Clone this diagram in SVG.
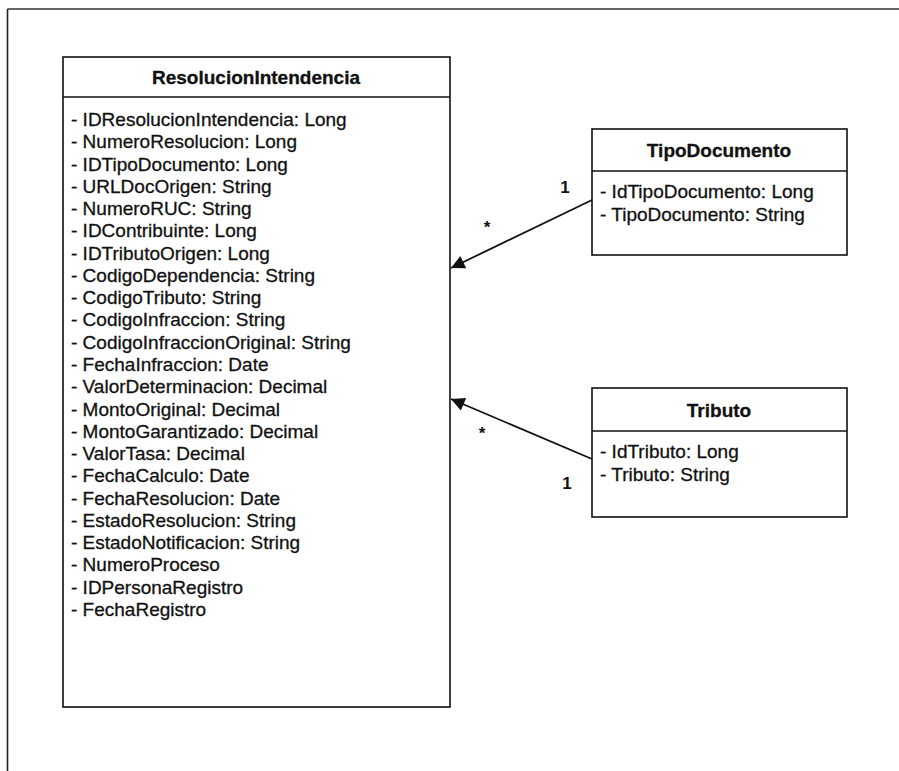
<svg xmlns="http://www.w3.org/2000/svg" width="899" height="771" viewBox="0 0 899 771">
<style>
.box{fill:#fff;stroke:#111;stroke-width:1.6}
.div{stroke:#111;stroke-width:1.4}
.t{font-family:"Liberation Sans",Arial,sans-serif;font-size:19px;fill:#111;stroke:#111;stroke-width:0.3}
.b{font-weight:bold;text-anchor:middle}
.lbl{font-family:"Liberation Sans",Arial,sans-serif;font-size:17px;font-weight:bold;fill:#111}
.edge{stroke:#111;stroke-width:1.8;fill:none}
</style>
<defs>
<marker id="ah" viewBox="0 0 10 10" refX="10" refY="5" markerWidth="8" markerHeight="8" markerUnits="userSpaceOnUse" orient="auto" style="overflow:visible">
<path d="M0,0 L10,5 L0,10 Z" fill="#111" transform="scale(1.7)" transform-origin="10 5"/>
</marker>
</defs>
<rect width="899" height="771" fill="#fff"/>
<g id="frame">
<line x1="7.5" y1="9" x2="899" y2="9" stroke="#333" stroke-width="1.5"/>
<line x1="7.5" y1="9" x2="7.5" y2="771" stroke="#222" stroke-width="1.6"/>
</g>
<g id="ResolucionIntendencia">
<rect class="box" x="63" y="57" width="387" height="650"/>
<line class="div" x1="63" y1="97" x2="450" y2="97"/>
<text class="t b" x="256" y="84">ResolucionIntendencia</text>
<text class="t" x="71" y="126">- IDResolucionIntendencia: Long</text>
<text class="t" x="71" y="148.3">- NumeroResolucion: Long</text>
<text class="t" x="71" y="170.5">- IDTipoDocumento: Long</text>
<text class="t" x="71" y="192.8">- URLDocOrigen: String</text>
<text class="t" x="71" y="215.1">- NumeroRUC: String</text>
<text class="t" x="71" y="237.4">- IDContribuinte: Long</text>
<text class="t" x="71" y="259.6">- IDTributoOrigen: Long</text>
<text class="t" x="71" y="281.9">- CodigoDependencia: String</text>
<text class="t" x="71" y="304.2">- CodigoTributo: String</text>
<text class="t" x="71" y="326.4">- CodigoInfraccion: String</text>
<text class="t" x="71" y="348.7">- CodigoInfraccionOriginal: String</text>
<text class="t" x="71" y="371">- FechaInfraccion: Date</text>
<text class="t" x="71" y="393.2">- ValorDeterminacion: Decimal</text>
<text class="t" x="71" y="415.5">- MontoOriginal: Decimal</text>
<text class="t" x="71" y="437.8">- MontoGarantizado: Decimal</text>
<text class="t" x="71" y="460">- ValorTasa: Decimal</text>
<text class="t" x="71" y="482.3">- FechaCalculo: Date</text>
<text class="t" x="71" y="504.6">- FechaResolucion: Date</text>
<text class="t" x="71" y="526.9">- EstadoResolucion: String</text>
<text class="t" x="71" y="549.1">- EstadoNotificacion: String</text>
<text class="t" x="71" y="571.4">- NumeroProceso</text>
<text class="t" x="71" y="593.7">- IDPersonaRegistro</text>
<text class="t" x="71" y="616">- FechaRegistro</text>
</g>
<g id="TipoDocumento">
<rect class="box" x="592" y="129" width="255" height="126"/>
<line class="div" x1="592" y1="171" x2="847" y2="171"/>
<text class="t b" x="719" y="157">TipoDocumento</text>
<text class="t" x="600" y="198">- IdTipoDocumento: Long</text>
<text class="t" x="600" y="220.5">- TipoDocumento: String</text>
</g>
<g id="Tributo">
<rect class="box" x="592" y="388" width="255" height="129"/>
<line class="div" x1="592" y1="431" x2="847" y2="431"/>
<text class="t b" x="719" y="416.5">Tributo</text>
<text class="t" x="600" y="458">- IdTributo: Long</text>
<text class="t" x="600" y="481">- Tributo: String</text>
</g>
<g id="connectors">
<line class="edge" x1="592" y1="200" x2="451" y2="268" marker-end="url(#ah)"/>
<line class="edge" x1="592" y1="459" x2="451" y2="399" marker-end="url(#ah)"/>
<text class="lbl" x="565" y="193" text-anchor="middle">1</text>
<text class="lbl" x="487" y="233" text-anchor="middle">*</text>
<text class="lbl" x="482" y="439" text-anchor="middle">*</text>
<text class="lbl" x="567" y="489" text-anchor="middle">1</text>
</g>
</svg>
